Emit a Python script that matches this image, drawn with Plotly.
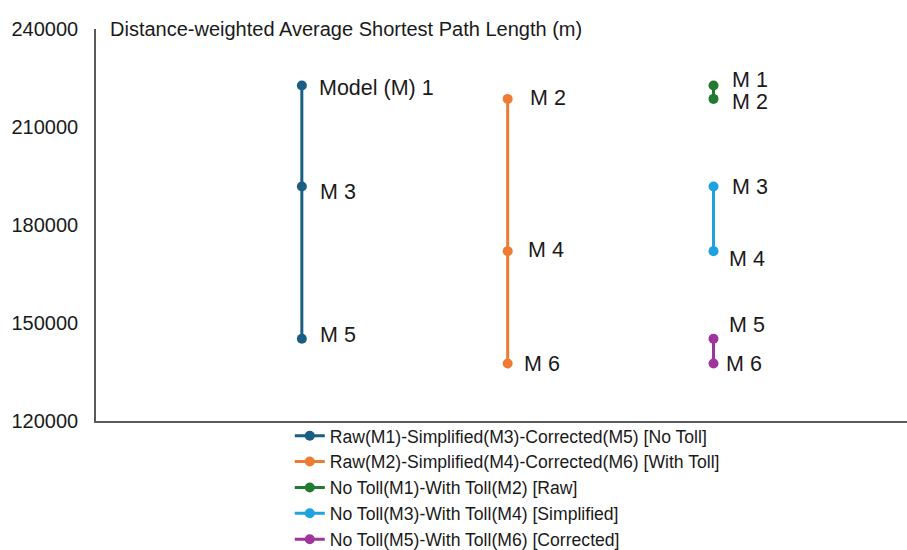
import plotly.graph_objects as go

# ---- data ----
models = ["M 1", "M 2", "M 3", "M 4", "M 5", "M 6"]
values = [222700, 218600, 191800, 172000, 145200, 137600]
value_of = dict(zip(models, values))

series_names = [
    "Raw(M1)-Simplified(M3)-Corrected(M5) [No Toll]",
    "Raw(M2)-Simplified(M4)-Corrected(M6) [With Toll]",
    "No Toll(M1)-With Toll(M2) [Raw]",
    "No Toll(M3)-With Toll(M4) [Simplified]",
    "No Toll(M5)-With Toll(M6) [Corrected]",
]
series_members = [
    ["M 1", "M 3", "M 5"],
    ["M 2", "M 4", "M 6"],
    ["M 1", "M 2"],
    ["M 3", "M 4"],
    ["M 5", "M 6"],
]
series_x = [1, 2, 3, 3, 3]
series_labels = [
    ["Model (M) 1", "M 3", "M 5"],
    ["M 2", "M 4", "M 6"],
    ["M 1", "M 2"],
    ["M 3", "M 4"],
    ["M 5", "M 6"],
]
y_ticks = [120000, 150000, 180000, 210000, 240000]
title_text = "Distance-weighted Average Shortest Path Length (m)"

# ---- styles ----
series_colors = ["#1B5E84", "#EE7B33", "#217A30", "#1EA3DE", "#A0349C"]
label_shift = [  # (xshift, yshift) in px per label
    [(15, -2), (16, -6), (16, 4)],
    [(20, 1), (18, 1), (14, 0)],
    [(16, 6), (16, -3)],
    [(16, -1), (13, -8)],
    [(13, 14), (10, 0)],
]
FONT = "Arial, Liberation Sans, sans-serif"

fig = go.Figure()
annotations = []
for i, name in enumerate(series_names):
    ys = [value_of[m] for m in series_members[i]]
    xs = [series_x[i]] * len(ys)
    fig.add_trace(go.Scatter(
        x=xs, y=ys, mode="lines+markers", name=name,
        legendgroup=f"g{i}",
        line=dict(color=series_colors[i], width=3),
        marker=dict(color=series_colors[i], size=10),
    ))
    for j, (xv, yv) in enumerate(zip(xs, ys)):
        dx, dy = label_shift[i][j]
        annotations.append(dict(
            x=xv, y=yv, xref="x", yref="y", text=series_labels[i][j],
            showarrow=False, xanchor="left", yanchor="middle",
            xshift=dx, yshift=dy, font=dict(size=21.5, color="#1a1a1a", family=FONT),
        ))

annotations.append(dict(
    x=0, y=1, xref="paper", yref="paper", text=title_text, showarrow=False,
    xanchor="left", yanchor="middle", xshift=12,
    font=dict(size=20, color="#1a1a1a", family=FONT),
))

fig.update_layout(
    width=907, height=550,
    margin=dict(l=96, r=0, t=29, b=129, autoexpand=False),
    paper_bgcolor="white", plot_bgcolor="white",
    font=dict(family=FONT, color="#1a1a1a"),
    showlegend=True,
    legend=dict(
        xref="container", yref="container",
        x=0.3195, y=0.2405, xanchor="left", yanchor="top",
        font=dict(size=17.6, color="#1a1a1a", family=FONT),
        tracegroupgap=0, traceorder="grouped", bgcolor="rgba(0,0,0,0)",
    ),
    annotations=annotations,
    xaxis=dict(range=[0, 3.94], showgrid=False, zeroline=False, showticklabels=False,
               showline=True, linecolor="#595959", linewidth=1.5, ticks="",
               automargin=False),
    yaxis=dict(range=[120000, 240000], tickvals=y_ticks, tickformat="d",
               showgrid=False, zeroline=False, automargin=False,
               showline=True, linecolor="#595959", linewidth=1.5, ticks="",
               tickfont=dict(size=20, color="#1a1a1a", family=FONT),
               ticklabelstandoff=12),
)

fig.write_html(
    "out.html",
    config={"displayModeBar": False},
    post_script="document.body.style.margin='0px';document.body.style.overflow='hidden';",
)
